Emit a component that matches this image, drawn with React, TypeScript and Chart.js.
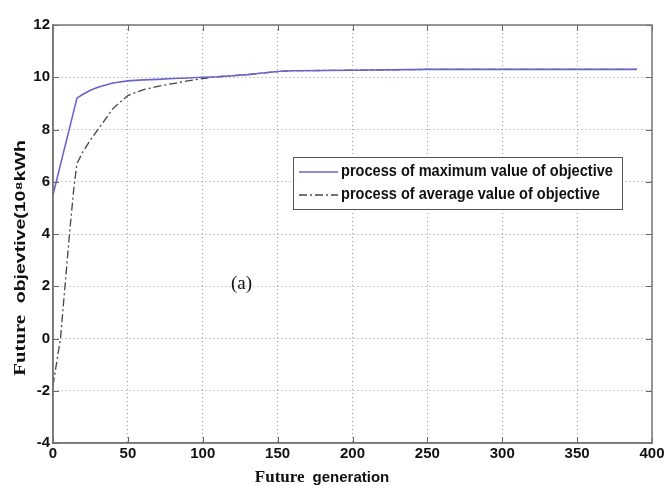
import React, { useEffect, useRef } from "react";
import { Chart, registerables } from "chart.js";

Chart.register(...registerables);

const genMax = [0, 16, 20, 25, 30, 40, 50, 60, 70, 80, 90, 100, 110, 120, 130, 140, 150, 160, 200, 250, 300, 390];
const valMax = [5.5, 9.2, 9.35, 9.5, 9.62, 9.78, 9.86, 9.9, 9.92, 9.95, 9.97, 10.0, 10.02, 10.06, 10.1, 10.16, 10.22, 10.25, 10.27, 10.3, 10.3, 10.3];

const genAvg = [0, 5, 8, 11, 14, 16, 20, 25, 30, 40, 50, 60, 70, 80, 90, 100, 110, 120, 130, 140, 150, 160, 200, 250, 300, 390];
const valAvg = [-1.8, 0, 2, 4, 5.8, 6.7, 7.15, 7.6, 8.0, 8.8, 9.3, 9.52, 9.65, 9.76, 9.86, 9.95, 10.02, 10.06, 10.1, 10.16, 10.22, 10.25, 10.27, 10.3, 10.3, 10.3];

const seriesLabels = ["process of maximum value of objective", "process of average value of objective"];
const xTicks = [0, 50, 100, 150, 200, 250, 300, 350, 400];
const yTicks = [-4, -2, 0, 2, 4, 6, 8, 10, 12];
const xTitle = ["Future", "generation"];
const yTitle = ["Future", "objevtive(10⁸kWh"];

const SANS = '"Liberation Sans", Arial, sans-serif';
const SERIF = '"Liberation Serif", "Times New Roman", serif';

function drawMixed(ctx: any, parts: string[], cx: number, cy: number, gap: number, stretch: number, s1: number, s2: number) {
  const f1 = `bold ${s1}px ${SERIF}`;
  const f2 = `bold ${s2}px ${SANS}`;
  ctx.font = f1;
  const w1 = ctx.measureText(parts[0]).width;
  ctx.font = f2;
  const w2 = ctx.measureText(parts[1]).width;
  const total = w1 + gap + w2;
  ctx.save();
  ctx.translate(cx, cy);
  ctx.scale(stretch, 1);
  const x = -total / 2;
  ctx.textAlign = "left";
  ctx.textBaseline = "alphabetic";
  ctx.font = f1;
  ctx.fillText(parts[0], x, 0);
  ctx.font = f2;
  ctx.fillText(parts[1], x + w1 + gap, 0);
  ctx.restore();
}

const legendPlugin = {
  id: "boxLegend",
  afterDraw(chart: any) {
    const ctx = chart.ctx;
    const x0 = 293, y0 = 157, w = 329, h = 52;
    ctx.save();
    ctx.fillStyle = "#ffffff";
    ctx.fillRect(x0, y0, w, h);
    ctx.strokeStyle = "#555555";
    ctx.lineWidth = 1;
    ctx.strokeRect(x0 + 0.5, y0 + 0.5, w, h);
    const rows = [172, 195];
    chart.data.datasets.forEach((ds: any, i: number) => {
      const y = rows[i];
      ctx.beginPath();
      ctx.strokeStyle = ds.borderColor;
      ctx.lineWidth = ds.borderWidth;
      ctx.setLineDash(ds.borderDash || []);
      ctx.moveTo(299, y);
      ctx.lineTo(338, y);
      ctx.stroke();
      ctx.setLineDash([]);
      ctx.fillStyle = "#111111";
      ctx.font = `bold 16px ${SANS}`;
      ctx.textAlign = "left";
      ctx.textBaseline = "middle";
      ctx.save();
      ctx.translate(341, y);
      ctx.scale(0.91, 1);
      ctx.fillText(ds.label, 0, 0);
      ctx.restore();
    });
    // (a) annotation
    ctx.fillStyle = "#111111";
    ctx.font = `19px ${SERIF}`;
    ctx.textBaseline = "middle";
    ctx.fillText("(a)", 231, 284);
    // axis titles
    drawMixed(ctx, xTitle, 322, 482, 8, 1, 17, 15);
    ctx.save();
    ctx.translate(25, 258);
    ctx.rotate(-Math.PI / 2);
    drawMixed(ctx, yTitle, 0, 0, 9, 1.3, 16, 15);
    ctx.restore();
    ctx.restore();
  },
};

const innerTicks = {
  id: "innerTicks",
  afterDatasetsDraw(chart: any) {
    const { ctx, chartArea, scales } = chart;
    const L = 6;
    ctx.save();
    ctx.strokeStyle = "#666666";
    ctx.lineWidth = 1;
    ctx.beginPath();
    scales.x.ticks.forEach((t: any) => {
      const px = Math.round(scales.x.getPixelForValue(t.value)) + 0.5;
      ctx.moveTo(px, chartArea.bottom);
      ctx.lineTo(px, chartArea.bottom - L);
      ctx.moveTo(px, chartArea.top);
      ctx.lineTo(px, chartArea.top + L);
    });
    scales.y.ticks.forEach((t: any) => {
      const py = Math.round(scales.y.getPixelForValue(t.value)) + 0.5;
      ctx.moveTo(chartArea.left, py);
      ctx.lineTo(chartArea.left + L, py);
      ctx.moveTo(chartArea.right, py);
      ctx.lineTo(chartArea.right - L, py);
    });
    ctx.stroke();
    ctx.strokeStyle = "#777777";
    ctx.lineWidth = 1.5;
    ctx.strokeRect(chartArea.left, chartArea.top, chartArea.right - chartArea.left, chartArea.bottom - chartArea.top);
    ctx.restore();
  },
};

export default function App() {
  const ref = useRef<HTMLCanvasElement>(null);
  useEffect(() => {
    if (!ref.current) return;
    const chart = new Chart(ref.current, {
      type: "line",
      data: {
        datasets: [
          {
            label: seriesLabels[0],
            data: genMax.map((g, i) => ({ x: g, y: valMax[i] })),
            borderColor: "#6666cc",
            borderWidth: 1.6,
            pointRadius: 0,
            tension: 0,
            fill: false,
          },
          {
            label: seriesLabels[1],
            data: genAvg.map((g, i) => ({ x: g, y: valAvg[i] })),
            borderColor: "#444444",
            borderWidth: 1.3,
            borderDash: [8, 3, 2, 3],
            pointRadius: 0,
            tension: 0,
            fill: false,
          },
        ],
      },
      options: {
        animation: false,
        responsive: false,
        layout: { padding: { left: 0, right: 15, top: 25, bottom: 0 } },
        plugins: { legend: { display: false }, tooltip: { enabled: false } },
        scales: {
          x: {
            type: "linear",
            min: 0,
            max: 400,
            afterBuildTicks: (s: any) => { s.ticks = xTicks.map((v) => ({ value: v })); },
            afterFit: (s: any) => { s.height = 43; },
            ticks: {
              color: "#111111",
              padding: 2,
              font: { family: SANS, size: 15, weight: "bold" },
            },
            grid: { color: "#9a9a9a", drawTicks: false, lineWidth: 1 },
            border: { display: true, color: "#777777", width: 1.5, dash: [1, 3] },
            title: { display: false },
          },
          y: {
            type: "linear",
            min: -4,
            max: 12,
            afterBuildTicks: (s: any) => { s.ticks = yTicks.map((v) => ({ value: v })); },
            afterFit: (s: any) => { s.width = 53; },
            ticks: {
              color: "#111111",
              padding: 3,
              font: { family: SANS, size: 15, weight: "bold" },
            },
            grid: { color: "#9a9a9a", drawTicks: false, lineWidth: 1 },
            border: { display: true, color: "#777777", width: 1.5, dash: [1, 3] },
            title: { display: false },
          },
        },
      },
      plugins: [innerTicks, legendPlugin],
    } as any);
    return () => chart.destroy();
  }, []);
  return (
    <div style={{ position: "fixed", left: 0, top: 0, width: 667, height: 486, background: "#fff" }}>
      <canvas ref={ref} width={667} height={486} style={{ display: "block" }} />
    </div>
  );
}
